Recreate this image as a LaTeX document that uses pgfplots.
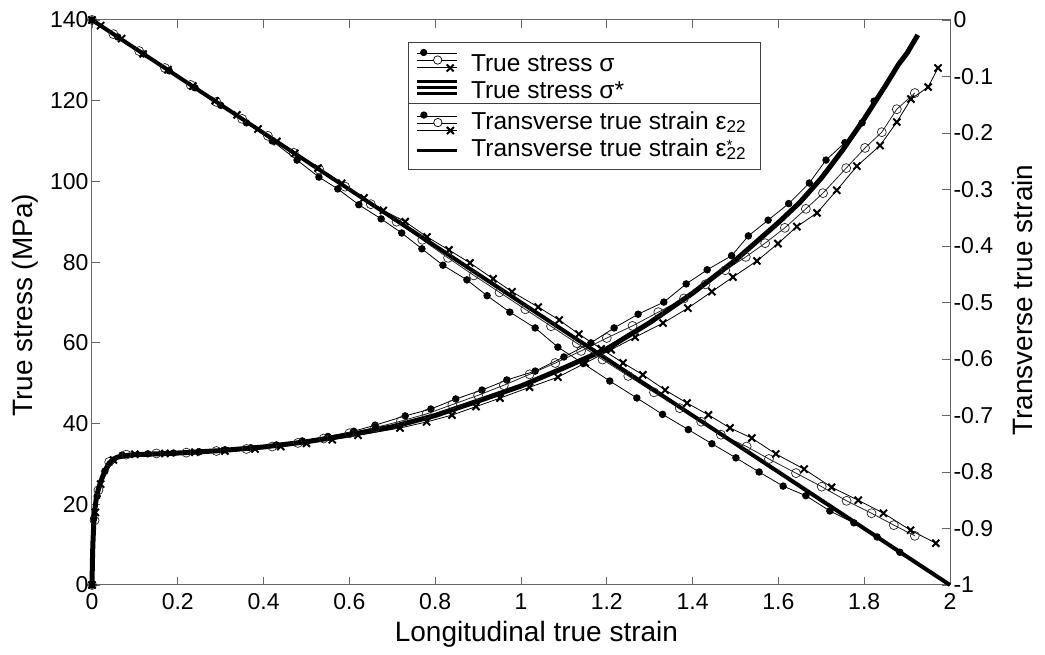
\documentclass[border=0pt]{standalone}
\usepackage{pgfplots}
\pgfplotsset{compat=1.18}
\usepackage{fontspec}
\setmainfont{Liberation Sans}
\newcommand\tickfont{\fontsize{23}{27}\selectfont}
\newcommand\labfont{\fontsize{28}{32}\selectfont}
\newcommand\legfont{\fontsize{24.5}{28}\selectfont}
\pgfplotsset{
  threeMark/.style={legend image code/.code={
    \draw[line width=0.8pt] (0pt,7pt)--(40pt,7pt) (0pt,0pt)--(40pt,0pt) (0pt,-7pt)--(40pt,-7pt);
    \fill (7pt,8pt) circle (3.2pt);
    \draw[line width=0.7pt,fill=white] (21pt,0.5pt) circle (4.2pt);
    \draw[line width=2pt] (30pt,-11pt)--(37pt,-4pt) (30pt,-4pt)--(37pt,-11pt);
  }},
  threeThick/.style={legend image code/.code={
    \draw[line width=2.6pt] (0pt,6pt)--(40pt,6pt) (0pt,0pt)--(40pt,0pt) (0pt,-6pt)--(40pt,-6pt);
  }},
  oneThick/.style={legend image code/.code={
    \draw[line width=3pt] (0pt,0pt)--(40pt,0pt);
  }},
  mylegend/.style={legend style={draw=black!75, line width=0.8pt, fill=white,
    anchor=north west, inner xsep=7pt, inner ysep=6.5pt, row sep=4pt, column sep=13pt,
    font=\legfont, cells={anchor=west}}},
  thin/.style={black, line width=0.8pt},
  dots/.style={thin, mark=*, mark size=3.3pt, mark options={solid}},
  circs/.style={thin, black!85, mark=o, mark size=4.5pt, mark options={solid, line width=0.7pt}},
  xs/.style={thin, mark=x, mark size=5pt, mark options={solid, line width=2pt}},
}
\begin{document}
\begin{tikzpicture}
\begin{axis}[
  at={(0,0)}, anchor=south west,
  scale only axis, width=858pt, height=565pt,
  xmin=0, xmax=2, ymin=0, ymax=140,
  clip=false,
  tick align=inside, xtick pos=both, ytick pos=left, xticklabel pos=lower,
  major tick length=8pt,
  axis line style={black!60, line width=1pt},
  tick style={black!60, line width=0.8pt},
  tick label style={font=\tickfont, black},
  xticklabel style={yshift=-5pt},
  xtick={0,0.2,0.4,0.6,0.8,1,1.2,1.4,1.6,1.8,2},
  xticklabels={0,0.2,0.4,0.6,0.8,1,1.2,1.4,1.6,1.8,2},
  ytick={0,20,40,60,80,100,120,140},
  yticklabels={0,20,40,60,80,100,120,140},
  xlabel={Longitudinal true strain},
  ylabel={True stress (MPa)},
  label style={font=\labfont},
  xlabel style={at={(axis description cs:0.518,-0.088)}, anchor=center},
  ylabel style={at={(axis description cs:-0.078,0.495)}, anchor=center},
  mylegend,
  legend style={at={(0.3683,0.961)}, nodes={inner sep=0pt, text height=22pt, text depth=0pt}},
]
\addlegendimage{threeMark}
\addlegendentry{\makebox[282pt][l]{True stress σ}}
\addlegendimage{threeThick}
\addlegendentry{\makebox[282pt][l]{True stress σ*}}
% sigma, specimen a (filled dots)
\addplot[dots, forget plot] coordinates {
(0,0) (0.004,16.5) (0.012,22) (0.03,28.2) (0.07,32.2) (0.13,32.5) (0.19,32.7) (0.25,33.0)
(0.31,33.5) (0.37,34.0) (0.43,34.7) (0.49,35.7) (0.55,36.8) (0.61,38.1) (0.66,39.6)
(0.730,41.9) (0.790,43.6) (0.848,46.1) (0.909,48.3) (0.967,50.8) (1.033,53.0) (1.100,56.5)
(1.163,60.0) (1.217,63.7) (1.273,67.1) (1.333,70.1) (1.385,74.6) (1.434,78.1) (1.491,81.6)
(1.530,86.5) (1.576,90.4) (1.624,94.5) (1.672,99.6) (1.711,105.3) (1.755,109.6) (1.795,114.5)
(1.823,119.9)};
% sigma, specimen b (open circles)
\addplot[circs, forget plot] coordinates {
(0,0) (0.006,16) (0.015,23.5) (0.04,30.5) (0.08,32.3) (0.15,32.6) (0.22,32.8) (0.29,33.2)
(0.36,33.7) (0.42,34.3) (0.48,35.2) (0.54,36.3) (0.60,37.6) (0.66,39.0) (0.72,40.6)
(0.78,42.4) (0.84,44.7) (0.90,47.0) (0.96,49.5) (1.02,52.2) (1.08,55.0) (1.14,58.0)
(1.20,61.2) (1.26,64.2) (1.32,67.6) (1.38,71.0) (1.43,74.5) (1.476,78.0) (1.524,81.3)
(1.569,84.7) (1.615,88.5) (1.664,93.2) (1.704,97.1) (1.758,103.3) (1.802,108.3)
(1.841,112.2) (1.876,117.9) (1.918,121.9)};
% sigma, specimen c (crosses)
\addplot[xs, forget plot] coordinates {
(0,0) (0.008,18) (0.02,25) (0.05,31) (0.10,32.4) (0.17,32.6) (0.24,32.9) (0.31,33.2)
(0.38,33.7) (0.44,34.3) (0.50,35.1) (0.56,36.0) (0.62,37.1) (0.718,38.9) (0.78,40.4)
(0.839,42.1) (0.895,44.2) (0.951,46.3) (1.02,49.0) (1.086,51.5) (1.15,55.0) (1.21,58.3)
(1.266,61.4) (1.331,64.9) (1.389,68.6) (1.445,72.7) (1.494,76.3) (1.550,80.3) (1.599,84.6)
(1.643,88.8) (1.690,92.2) (1.736,97.8) (1.783,103.8) (1.837,108.9) (1.876,114.7)
(1.909,120.4) (1.949,123.4) (1.972,128.1)};
% sigma* (thick)
\addplot[black, line width=5pt, forget plot] coordinates {
(0,0) (0.001,6) (0.002,10) (0.004,15) (0.007,19) (0.01,21.5) (0.015,23.8) (0.02,25.5)
(0.03,28.3) (0.04,30.2) (0.05,31.2) (0.06,31.7) (0.08,32.1) (0.1,32.3) (0.15,32.5)
(0.2,32.7) (0.3,33.3) (0.4,34.2) (0.5,35.5) (0.6,37.2) (0.7,39.2) (0.8,42.0) (0.9,45.6)
(1.0,49.3) (1.1,53.8) (1.2,58.5) (1.3,65.0) (1.4,72.3) (1.5,80.5) (1.6,89.8) (1.65,94.8)
(1.7,100.8) (1.75,107.8) (1.8,115.5) (1.85,123.8) (1.88,129.0) (1.9,131.8) (1.925,136.3)};
\end{axis}
\begin{axis}[
  at={(0,0)}, anchor=south west,
  scale only axis, width=858pt, height=565pt,
  xmin=0, xmax=2, ymin=-1, ymax=0,
  clip=false,
  axis x line=none, axis y line*=right,
  tick align=inside, ytick pos=right,
  major tick length=8pt,
  axis line style={black!60, line width=1pt},
  tick style={black!60, line width=0.8pt},
  tick label style={font=\tickfont, black},
  ytick={-1,-0.9,-0.8,-0.7,-0.6,-0.5,-0.4,-0.3,-0.2,-0.1,0},
  yticklabels={-1,-0.9,-0.8,-0.7,-0.6,-0.5,-0.4,-0.3,-0.2,-0.1,0},
  ylabel={Transverse true strain},
  label style={font=\labfont},
  ylabel style={at={(axis description cs:1.084,0.504)}, anchor=center},
  mylegend,
  legend style={at={(0.3683,0.853)}, inner ysep=8pt, nodes={inner sep=0pt, text height=17pt, text depth=5pt}},
]
\addlegendimage{threeMark}
\addlegendentry{\makebox[282pt][l]{Transverse true strain ε\textsubscript{22}}}
\addlegendimage{oneThick}
\addlegendentry{\makebox[282pt][l]{Transverse true strain ε\makebox[0pt][l]{\raisebox{6pt}{\fontsize{15}{15}\selectfont *}}\textsubscript{22}}}
% eps22, specimen a (filled dots)
\addplot[dots, forget plot] coordinates {
(0,0) (0.06,-0.030) (0.12,-0.060) (0.18,-0.090) (0.24,-0.120) (0.30,-0.151) (0.36,-0.182)
(0.42,-0.214) (0.478,-0.248) (0.529,-0.278) (0.573,-0.299) (0.622,-0.327) (0.674,-0.352)
(0.722,-0.377) (0.769,-0.405) (0.818,-0.434) (0.874,-0.460) (0.921,-0.488) (0.974,-0.517)
(1.033,-0.545) (1.086,-0.579) (1.145,-0.608) (1.207,-0.639) (1.270,-0.669) (1.330,-0.698)
(1.390,-0.725) (1.445,-0.750) (1.501,-0.775) (1.555,-0.800) (1.611,-0.825) (1.664,-0.842)
(1.720,-0.869) (1.776,-0.890) (1.830,-0.915) (1.883,-0.942)};
% eps22, specimen b (open circles)
\addplot[circs, forget plot] coordinates {
(0,0) (0.05,-0.025) (0.11,-0.055) (0.17,-0.085) (0.23,-0.115) (0.29,-0.145) (0.35,-0.175)
(0.41,-0.205) (0.47,-0.235) (0.53,-0.265) (0.59,-0.295) (0.65,-0.326) (0.71,-0.357)
(0.77,-0.389) (0.83,-0.421) (0.89,-0.452) (0.95,-0.482) (1.01,-0.512) (1.07,-0.542)
(1.13,-0.572) (1.19,-0.601) (1.25,-0.630) (1.31,-0.659) (1.37,-0.687) (1.42,-0.711)
(1.466,-0.734) (1.526,-0.755) (1.578,-0.777) (1.641,-0.802) (1.701,-0.826) (1.759,-0.851)
(1.817,-0.873) (1.869,-0.894) (1.918,-0.913)};
% eps22, specimen c (crosses)
\addplot[xs, forget plot] coordinates {
(0,0) (0.02,-0.010) (0.069,-0.033) (0.119,-0.060) (0.177,-0.088) (0.235,-0.117) (0.287,-0.143)
(0.338,-0.168) (0.387,-0.193) (0.431,-0.215) (0.473,-0.236) (0.527,-0.262) (0.582,-0.289)
(0.634,-0.315) (0.679,-0.337) (0.730,-0.357) (0.781,-0.384) (0.832,-0.407) (0.881,-0.430)
(0.935,-0.458) (0.979,-0.481) (1.040,-0.508) (1.089,-0.531) (1.135,-0.556) (1.187,-0.582)
(1.238,-0.607) (1.284,-0.628) (1.336,-0.655) (1.387,-0.678) (1.437,-0.699) (1.487,-0.722)
(1.538,-0.740) (1.594,-0.768) (1.660,-0.795) (1.724,-0.827) (1.786,-0.850) (1.845,-0.873)
(1.908,-0.903) (1.967,-0.926)};
% eps22* (thick)
\addplot[black, line width=4pt, forget plot] coordinates {(0,0) (2,-1)};
\end{axis}
\pgfresetboundingbox
\path[use as bounding box] (-92pt,-70pt) rectangle (953pt,585pt);
\end{tikzpicture}
\end{document}
